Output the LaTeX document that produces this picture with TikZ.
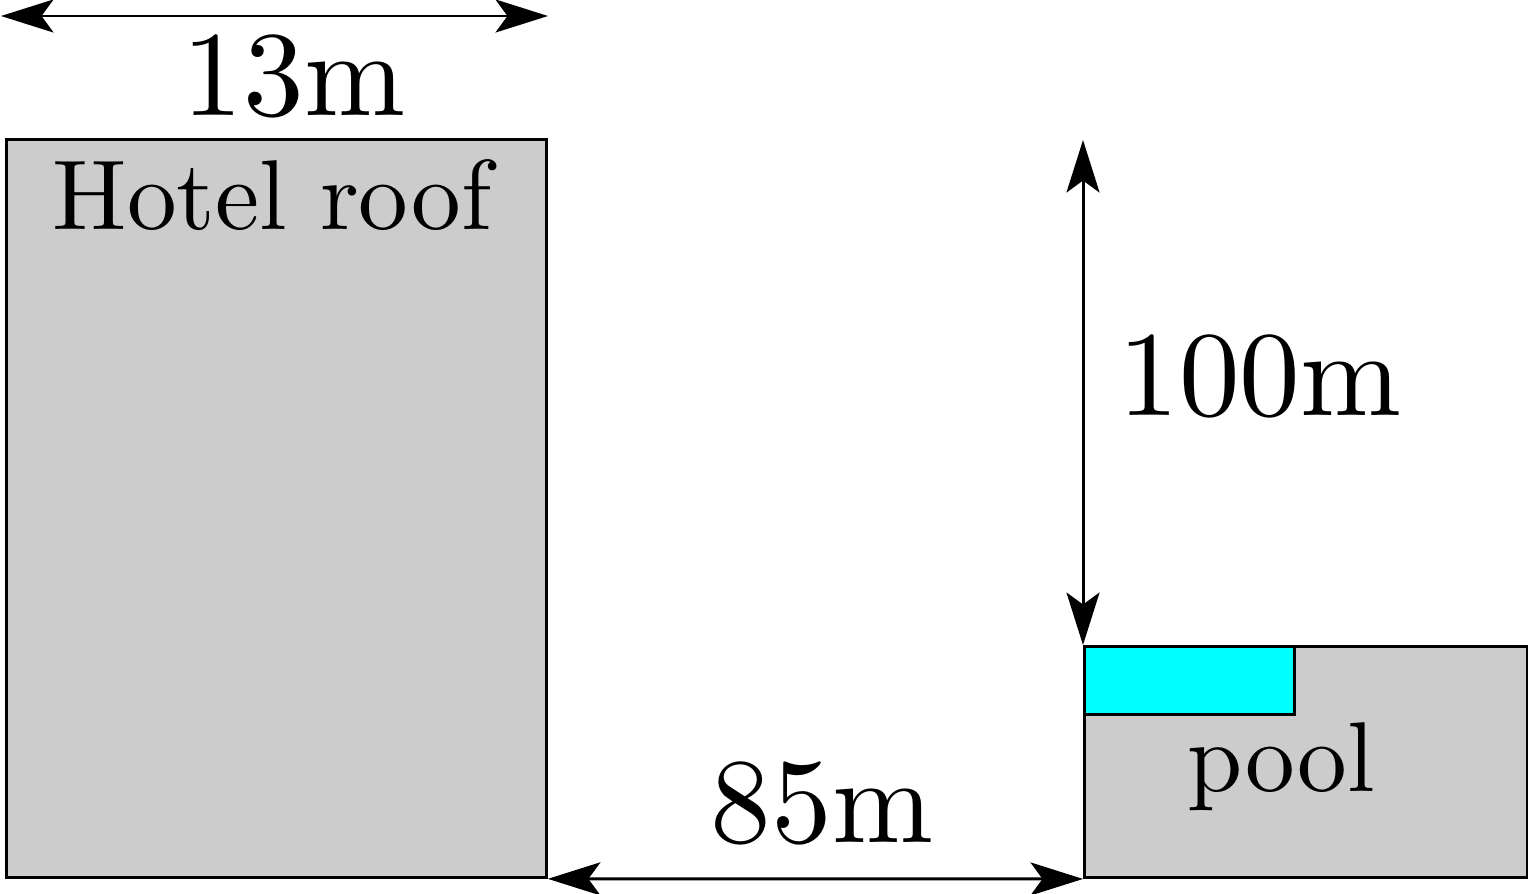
\documentclass[tikz,border=0pt]{standalone}
\usetikzlibrary{arrows.meta}
\definecolor{water}{RGB}{0,255,255}
\font\labelfont="[lmroman10-regular]" at 56.5pt
\font\dimfont="[lmroman10-regular]" at 69pt

\begin{document}
\begin{tikzpicture}[x=0.02cm, y=-0.02cm, line width=1.7pt,
        block/.style={draw, fill=black!20, inner sep=0pt, anchor=north west},
        dim/.style={{Stealth[length=1.05cm, width=0.66cm, inset=0.24cm]}-{Stealth[length=1.05cm, width=0.66cm, inset=0.24cm]}},
        small/.style={anchor=base, font=\labelfont},
        big/.style={anchor=base, font=\dimfont}]
        \useasboundingbox (0,0) rectangle (1528,893);
        \node[block, minimum width=10.8cm, minimum height=14.76cm] (Hotel) at (5,138) {};
        \node[block, minimum width=8.86cm, minimum height=4.62cm] (Pool) at (1083,645) {};
        \node[block, fill=water, minimum width=4.2cm, minimum height=1.36cm] (Water) at (Pool.north west) {};
        \node[small] (HotelLabel) at (272,229) {Hotel roof};
        \node[small] (PoolLabel) at (1281,791) {pool};
        \coordinate (WidthL) at (1,16);
        \coordinate (WidthR) at (548,16);
        \coordinate (Height) at (1083,140);
        \draw[dim] (WidthL) -- (WidthR);
        \draw[dim] (Height) -- (Pool.north west);
        \draw[dim] (Hotel.south east) -- (Pool.south west);
        \node[big] (Width) at (294,115) {13m};
        \node[big] (Drop) at (1260,415) {100m};
        \node[big] (Gap) at (822,842) {85m};
\end{tikzpicture}
\end{document}
